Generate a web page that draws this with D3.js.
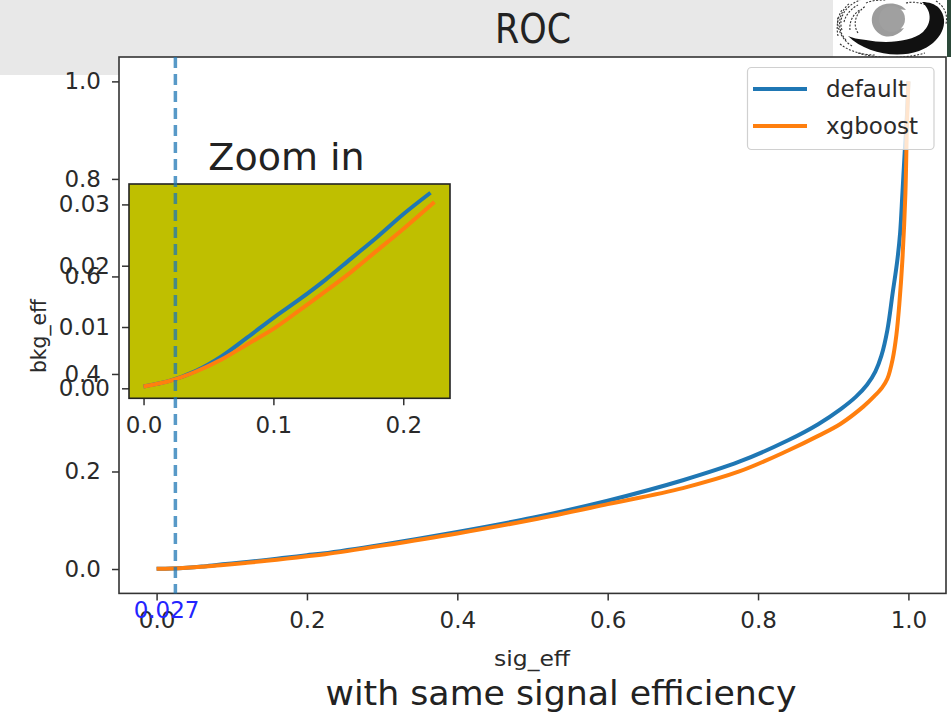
<!DOCTYPE html>
<html>
<head>
<meta charset="utf-8">
<script src="https://cdn.jsdelivr.net/npm/d3@7"></script>
<style>
  html, body { margin: 0; padding: 0; background: #ffffff; }
  svg { display: block; font-family: "DejaVu Sans", sans-serif; }
</style>
</head>
<body>
<svg id="chart" width="951" height="715"></svg>
<script>
// ---------- data ----------
const seriesNames = ["default", "xgboost"];
const seriesColors = ["#1f77b4", "#ff7f0e"];

const defaultSig = [0, 0.02, 0.04, 0.06, 0.08, 0.1, 0.12, 0.14, 0.16, 0.18, 0.2, 0.221, 0.3, 0.4, 0.5, 0.6, 0.7, 0.775, 0.84, 0.88, 0.91, 0.93, 0.945, 0.956, 0.964, 0.972, 0.979, 0.985, 0.989, 0.992, 0.995, 0.998, 1.0];
const defaultBkg = [0.0003, 0.0012, 0.0028, 0.0052, 0.0083, 0.0115, 0.0145, 0.0177, 0.0212, 0.0247, 0.0284, 0.0319, 0.05, 0.076, 0.105, 0.14, 0.182, 0.22, 0.264, 0.297, 0.328, 0.353, 0.378, 0.405, 0.437, 0.49, 0.5655, 0.63, 0.69, 0.77, 0.853, 0.93, 1.0];

const xgboostSig = [0, 0.02, 0.04, 0.06, 0.08, 0.1, 0.12, 0.14, 0.16, 0.18, 0.2, 0.224, 0.3, 0.4, 0.5, 0.6, 0.7, 0.775, 0.84, 0.88, 0.91, 0.94, 0.955, 0.965, 0.972, 0.979, 0.984, 0.988, 0.992, 0.996, 0.998, 1.0];
const xgboostBkg = [0.0003, 0.0012, 0.0027, 0.0047, 0.0072, 0.0097, 0.0127, 0.0158, 0.019, 0.0225, 0.026, 0.0304, 0.048, 0.073, 0.101, 0.133, 0.166, 0.2, 0.243, 0.273, 0.298, 0.333, 0.355, 0.372, 0.39, 0.43, 0.48, 0.545, 0.634, 0.77, 0.907, 1.0];

const mainXTicks = [0.0, 0.2, 0.4, 0.6, 0.8, 1.0];
const mainYTicks = [0.0, 0.2, 0.4, 0.6, 0.8, 1.0];
const insetXTicks = [0.0, 0.1, 0.2];
const insetYTicks = [0.00, 0.01, 0.02, 0.03];
const insetMaxSig = 0.225;

const cutLinePos = 0.025;
const cutLabel = "0.027";

const titleText = "ROC";
const insetTitle = "Zoom in";
const xLabel = "sig_eff";
const yLabel = "bkg_eff";
const footerText = "with same signal efficiency";

// ---------- setup ----------
const svg = d3.select("#chart");
const series = [
  { name: seriesNames[0], color: seriesColors[0], pts: defaultSig.map((x, i) => [x, defaultBkg[i]]) },
  { name: seriesNames[1], color: seriesColors[1], pts: xgboostSig.map((x, i) => [x, xgboostBkg[i]]) }
];
const FS = 23;
const TXT = "#2a2a2a";

// background banner
svg.append("rect").attr("x", 0).attr("y", 0).attr("width", 833).attr("height", 75).attr("fill", "#e8e8e8");
svg.append("rect").attr("x", 833).attr("y", 0).attr("width", 114).attr("height", 57).attr("fill", "#ffffff");
svg.append("rect").attr("x", 947).attr("y", 0).attr("width", 4).attr("height", 57).attr("fill", "#2c4a3a");

// logo (swirl)
const logo = svg.append("g");
const scribbles = [
  "M842 30 C838 18 845 6 860 0", "M846 40 C836 30 838 12 850 3", "M852 46 C842 40 836 28 838 16",
  "M858 33 C852 24 856 12 866 6", "M858 53 C878 59 905 59 925 53", "M906 3 C914 1 922 3 928 6",
  "M936 1 C944 6 948 14 946 24", "M840 44 C850 52 864 55 876 55", "M866 3 C872 0 880 0 886 0",
  "M844 22 C846 14 852 8 858 5", "M850 30 C849 22 853 14 860 10", "M838 36 C836 26 838 16 842 10"
];
logo.selectAll("path.scr").data(scribbles).join("path")
  .attr("class", "scr").attr("d", d => d).attr("fill", "none")
  .attr("stroke", "#333").attr("stroke-width", 1.1).attr("stroke-dasharray", "2 1.5");
logo.append("path")
  .attr("d", "M906 10 C900 2 884 1 876 9 C868 18 872 32 884 36 C892 38 900 34 904 28 C896 30 888 26 888 19 C888 12 898 8 906 10 Z")
  .attr("fill", "#9c9c9c");
logo.append("circle").attr("cx", 892).attr("cy", 19).attr("r", 13).attr("fill", "#a0a0a0");
logo.append("path")
  .attr("d", "M848 36 C865 53 896 59 919 51 C941 43 951 22 939 8 C935 4 929 2 922 2 C931 10 933 22 923 32 C911 42 886 44 866 40 C858 39 852 38 848 36 Z")
  .attr("fill", "#111");

// title
svg.append("text").attr("x", 533).attr("y", 43).attr("text-anchor", "middle")
  .attr("font-size", 40).attr("fill", "#222")
  .attr("textLength", 76).attr("lengthAdjust", "spacingAndGlyphs")
  .text(titleText);

// ---------- main axes ----------
const M = { left: 119, right: 946, top: 57, bottom: 593.4 };
const x = d3.scaleLinear().domain([-0.05, 1.05]).range([M.left, M.right]);
const y = d3.scaleLinear().domain([-0.05, 1.05]).range([M.bottom, M.top]);

svg.append("rect").attr("x", M.left).attr("y", M.top)
  .attr("width", M.right - M.left).attr("height", M.bottom - M.top).attr("fill", "#fff");

const line = (sx, sy) => d3.line().x(d => sx(d[0])).y(d => sy(d[1])).curve(d3.curveCatmullRom.alpha(0.5));

const mainClip = svg.append("clipPath").attr("id", "mclip");
mainClip.append("rect").attr("x", M.left).attr("y", M.top).attr("width", M.right - M.left).attr("height", M.bottom - M.top);

const gLines = svg.append("g").attr("clip-path", "url(#mclip)");
series.forEach(s => {
  gLines.append("path").datum(s.pts).attr("d", line(x, y))
    .attr("fill", "none").attr("stroke", s.color).attr("stroke-width", 4)
    .attr("stroke-linejoin", "round").attr("stroke-linecap", "butt");
});

// axes
const xAxis = d3.axisBottom(x).tickValues(mainXTicks).tickFormat(d3.format(".1f")).tickSize(7).tickPadding(11);
const yAxis = d3.axisLeft(y).tickValues(mainYTicks).tickFormat(d3.format(".1f")).tickSize(7).tickPadding(11);
const gx = svg.append("g").attr("transform", `translate(0,${M.bottom})`).call(xAxis);
const gy = svg.append("g").attr("transform", `translate(${M.left},0)`).call(yAxis);
[gx, gy].forEach(g => {
  g.select(".domain").remove();
  g.selectAll(".tick line").attr("stroke", "#333").attr("stroke-width", 1.5);
  g.selectAll(".tick text").attr("font-size", FS).attr("fill", TXT).attr("font-family", "DejaVu Sans");
});

svg.append("rect").attr("x", M.left).attr("y", M.top)
  .attr("width", M.right - M.left).attr("height", M.bottom - M.top)
  .attr("fill", "none").attr("stroke", "#333").attr("stroke-width", 1.6);

svg.append("text").attr("x", 532).attr("y", 666).attr("text-anchor", "middle")
  .attr("font-size", 22).attr("fill", TXT)
  .attr("textLength", 76).attr("lengthAdjust", "spacingAndGlyphs").text(xLabel);
svg.append("text").attr("transform", `translate(46,336) rotate(-90)`)
  .attr("text-anchor", "middle").attr("font-size", 22).attr("fill", TXT)
  .attr("textLength", 74).attr("lengthAdjust", "spacingAndGlyphs").text(yLabel);

// legend
const leg = svg.append("g");
leg.append("rect").attr("x", 747.5).attr("y", 67.5).attr("width", 186.5).attr("height", 82)
  .attr("rx", 4).attr("fill", "#fff").attr("fill-opacity", 0.8).attr("stroke", "#d0d0d0").attr("stroke-width", 1.2);
series.forEach((s, i) => {
  const yy = 89 + i * 37;
  leg.append("line").attr("x1", 753).attr("x2", 807).attr("y1", yy).attr("y2", yy)
    .attr("stroke", s.color).attr("stroke-width", 4);
  leg.append("text").attr("x", 826).attr("y", yy).attr("dy", "0.35em")
    .attr("font-size", FS).attr("fill", TXT).text(s.name);
});

// ---------- inset ----------
const I = { left: 129, right: 450, top: 184, bottom: 398.3 };
const xi = d3.scaleLinear().domain([-0.0112, 0.2360]).range([I.left, I.right]);
const yi = d3.scaleLinear().domain([-0.00163, 0.03333]).range([I.bottom, I.top]);

svg.append("rect").attr("x", I.left).attr("y", I.top)
  .attr("width", I.right - I.left).attr("height", I.bottom - I.top).attr("fill", "#bfbf00");

series.forEach(s => {
  svg.append("path").datum(s.pts.filter(p => p[0] <= insetMaxSig)).attr("d", line(xi, yi))
    .attr("fill", "none").attr("stroke", s.color).attr("stroke-width", 4)
    .attr("stroke-linejoin", "round");
});

const xiAxis = d3.axisBottom(xi).tickValues(insetXTicks).tickFormat(d3.format(".1f")).tickSize(7).tickPadding(11);
const yiAxis = d3.axisLeft(yi).tickValues(insetYTicks).tickFormat(d3.format(".2f")).tickSize(7).tickPadding(12);
const gxi = svg.append("g").attr("transform", `translate(0,${I.bottom})`).call(xiAxis);
const gyi = svg.append("g").attr("transform", `translate(${I.left},0)`).call(yiAxis);
[gxi, gyi].forEach(g => {
  g.select(".domain").remove();
  g.selectAll(".tick line").attr("stroke", "#333").attr("stroke-width", 1.5);
  g.selectAll(".tick text").attr("font-size", FS).attr("fill", TXT).attr("font-family", "DejaVu Sans");
});
svg.append("rect").attr("x", I.left).attr("y", I.top)
  .attr("width", I.right - I.left).attr("height", I.bottom - I.top)
  .attr("fill", "none").attr("stroke", "#222").attr("stroke-width", 1.6);

svg.append("text").attr("x", 286.5).attr("y", 170).attr("text-anchor", "middle")
  .attr("font-size", 38).attr("fill", "#222").text(insetTitle);

// ---------- cut line ----------
svg.append("line").attr("x1", x(cutLinePos)).attr("x2", x(cutLinePos))
  .attr("y1", M.top).attr("y2", M.bottom)
  .attr("stroke", "#1f77b4").attr("stroke-opacity", 0.75).attr("stroke-width", 3.5)
  .attr("stroke-dasharray", "11 6");
svg.append("text").attr("x", x(0) + 10).attr("y", 618).attr("text-anchor", "middle")
  .attr("font-size", FS).attr("fill", "#2424ff").text(cutLabel);

// footer
svg.append("text").attr("x", 561).attr("y", 705).attr("text-anchor", "middle")
  .attr("font-size", 33).attr("fill", "#222")
  .attr("textLength", 471).attr("lengthAdjust", "spacingAndGlyphs").text(footerText);
</script>
</body>
</html>
